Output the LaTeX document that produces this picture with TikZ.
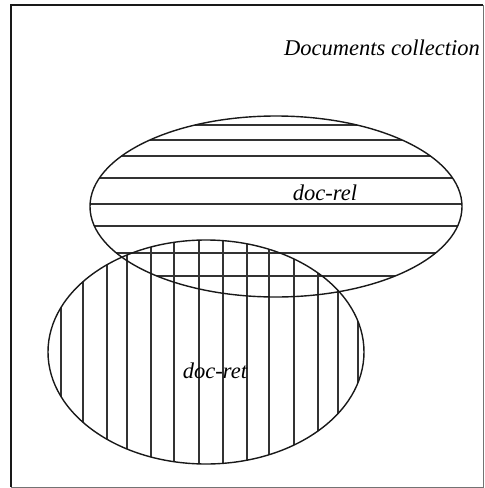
\documentclass[tikz,border=0pt]{standalone}
\usepackage{fontspec}
\setmainfont{Liberation Serif}
\begin{document}
\begin{tikzpicture}[x=1pt,y=-1pt,
  outline/.style={draw=black!90,line width=1.4pt},
  hatch/.style={draw=black!80,line width=1.1pt},
  lbl/.style={font=\itshape\fontsize{22.5}{26}\selectfont,anchor=base,inner sep=0pt}]
\useasboundingbox (0,0) rectangle (485,488);
% frame
\draw[draw=black!90,line width=1.6pt] (11,487) -- (11,5) -- (483,5);
\draw[draw=black!55,line width=1pt] (483,5) -- (483,487) -- (11,487);
% horizontal hatching of doc-rel
\begin{scope}
\clip (276,206.5) ellipse [x radius=186,y radius=90.5];
\foreach \y in {125,140,156,178,204,226,253,276}
  \draw[hatch] (80,\y) -- (470,\y);
\end{scope}
% vertical hatching of doc-ret
\begin{scope}
\clip (206,352) ellipse [x radius=158,y radius=112];
\foreach \x in {61,83,107,127,151,174,199,223,247,269,294,318,338,358}
  \draw[hatch] (\x,230) -- (\x,470);
\end{scope}
% outlines
\draw[outline] (276,206.5) ellipse [x radius=186,y radius=90.5];
\draw[outline] (206,352) ellipse [x radius=158,y radius=112];
% labels
\node[lbl] (coll) at (382,55) {Documents collection};
\node[lbl] (rel) at (325,200) {doc-rel};
\node[lbl] (ret) at (215,378) {doc-ret};
\end{tikzpicture}
\end{document}
